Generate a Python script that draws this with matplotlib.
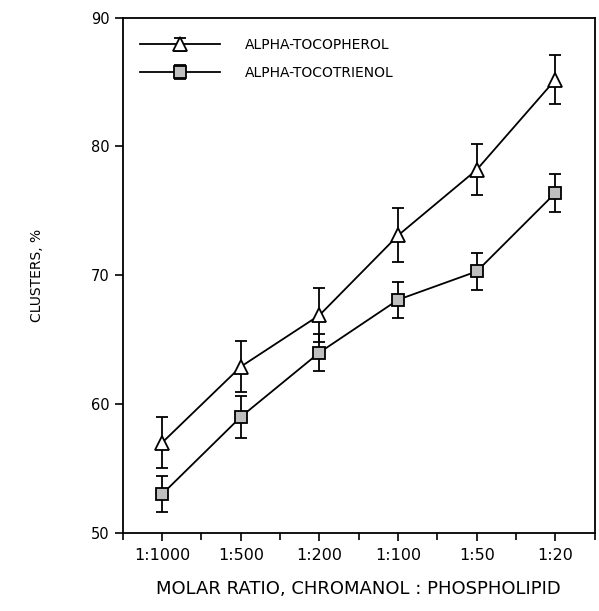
import numpy as np
from matplotlib import pyplot as plt
from matplotlib.ticker import MultipleLocator

# molar ratio categories and cluster percentages
ratios = ["1:1000", "1:500", "1:200", "1:100", "1:50", "1:20"]
tocopherol = [57.0, 62.9, 66.9, 73.1, 78.2, 85.2]
tocopherol_err = [2.0, 2.0, 2.1, 2.1, 2.0, 1.9]
tocotrienol = [53.0, 59.0, 64.0, 68.1, 70.3, 76.4]
tocotrienol_err = [1.4, 1.6, 1.4, 1.4, 1.45, 1.45]

x = np.arange(len(ratios))

fig = plt.figure(figsize=(5.99, 6.11), dpi=100)
ax = fig.add_axes([0.205, 0.128, 0.788, 0.843])

ax.errorbar(x, tocopherol, yerr=tocopherol_err, color="black", lw=1.3,
            marker="^", markersize=10, markerfacecolor="white",
            markeredgecolor="black", markeredgewidth=1.3,
            capsize=4, capthick=1.3, elinewidth=1.3,
            label="ALPHA-TOCOPHEROL")
ax.errorbar(x, tocotrienol, yerr=tocotrienol_err, color="black", lw=1.3,
            marker="s", markersize=9, markerfacecolor="0.75",
            markeredgecolor="black", markeredgewidth=1.3,
            capsize=4, capthick=1.3, elinewidth=1.3,
            label="ALPHA-TOCOTRIENOL")

ax.set_xlim(-0.5, 5.5)
ax.set_ylim(50, 90)
ax.set_xticks(x)
ax.set_xticklabels(ratios)
ax.xaxis.set_minor_locator(MultipleLocator(0.5))
ax.yaxis.set_major_locator(MultipleLocator(10))
ax.tick_params(axis="both", which="major", direction="out", length=6,
               width=1.2, labelsize=10.5)
ax.tick_params(axis="x", which="minor", direction="out", length=5, width=1.2)
ax.tick_params(axis="x", pad=5, labelsize=11.5)
for s in ax.spines.values():
    s.set_linewidth(1.3)

ax.set_ylabel("CLUSTERS, %", fontsize=10, labelpad=34)
ax.set_xlabel("MOLAR RATIO, CHROMANOL : PHOSPHOLIPID", fontsize=13,
              labelpad=12)

leg = ax.legend(loc="upper left", frameon=False, fontsize=10,
                handlelength=5.8, handletextpad=1.8, labelspacing=1.0,
                borderpad=0, borderaxespad=0,
                bbox_to_anchor=(0.036, 0.96))

fig.savefig("out.png", dpi=100)
